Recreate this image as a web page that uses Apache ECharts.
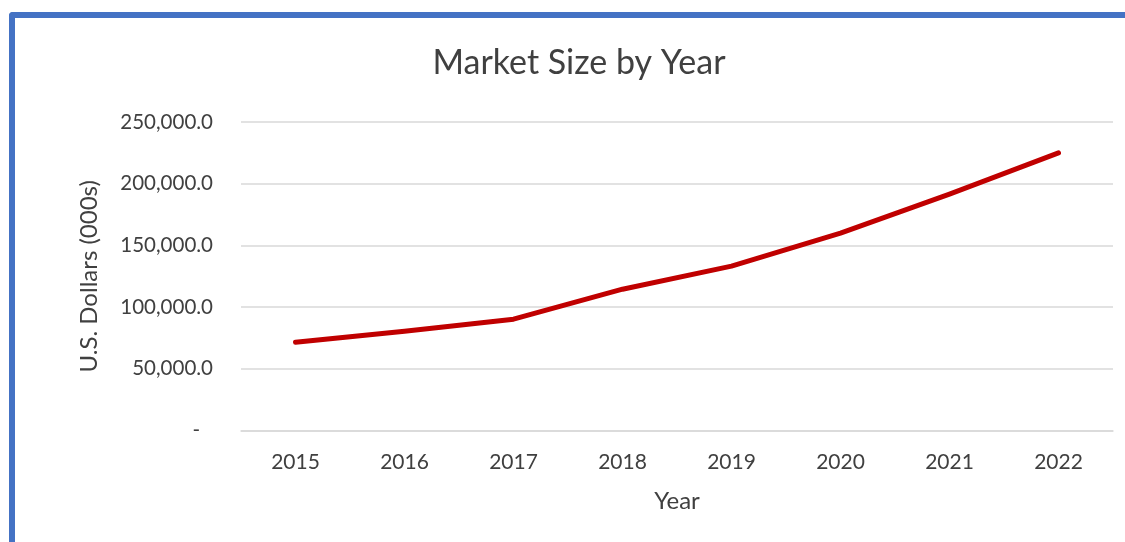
<!DOCTYPE html>
<html>
<head>
<meta charset="utf-8">
<script src="https://cdn.jsdelivr.net/npm/echarts@6/dist/echarts.min.js"></script>
<style>
html,body{margin:0;padding:0;background:#fff;}
#wrap{position:relative;width:1125px;height:542px;overflow:hidden;background:#fff;}
#frame{position:absolute;left:9px;top:12px;width:1130px;height:550px;border-top:6px solid #4472C4;border-left:6px solid #4472C4;border-top-left-radius:4px;box-sizing:border-box;}
#chart{position:absolute;left:0;top:0;width:1125px;height:542px;}
</style>
</head>
<body>
<div id="wrap">
<div id="frame"></div>
<div id="chart"></div>
</div>
<script>
const years = ['2015','2016','2017','2018','2019','2020','2021','2022'];
const marketSize = [71500, 80500, 90200, 114500, 133200, 160000, 191500, 225000];
const yTicks = [0, 50000, 100000, 150000, 200000, 250000];

const FONT = 'Lato, "Open Sans", sans-serif';
const chart = echarts.init(document.getElementById('chart'), null, {renderer:'canvas'});
function fmt(v){
  if (v === 0) return '{d|-}';
  return v.toLocaleString('en-US',{minimumFractionDigits:1,maximumFractionDigits:1});
}
chart.setOption({
  backgroundColor:'transparent',
  animation:false,
  title:{
    text:'Market Size by Year',
    left:574, top:41, textAlign:'center',
    textStyle:{fontFamily:FONT,fontSize:34,fontWeight:'normal',color:'#404040'}
  },
  grid:{left:241,right:12,top:122,bottom:111.5,containLabel:false},
  xAxis:{
    type:'category',
    data:years,
    boundaryGap:true,
    name:'Year',
    nameLocation:'middle',
    nameGap:59,
    nameTextStyle:{fontFamily:FONT,fontSize:24,color:'#404040'},
    axisLine:{show:true,lineStyle:{color:'#d9d9d9',width:1.5}},
    axisTick:{show:false},
    axisLabel:{fontFamily:FONT,fontSize:21,color:'#404040',margin:21}
  },
  yAxis:{
    type:'value',
    min:yTicks[0],
    max:yTicks[yTicks.length-1],
    interval:50000,
    name:'U.S. Dollars (000s)',
    nameLocation:'middle',
    nameGap:140,
    nameRotate:90,
    nameTextStyle:{fontFamily:FONT,fontSize:24,color:'#404040'},
    axisLine:{show:false},
    axisTick:{show:false},
    splitLine:{lineStyle:{color:'#d9d9d9',width:1.5}},
    axisLabel:{
      fontFamily:FONT,fontSize:20.5,color:'#404040',margin:28,
      formatter:fmt,
      rich:{d:{fontFamily:FONT,fontSize:20.5,color:'#404040',padding:[0,13,0,0]}}
    }
  },
  series:[{
    type:'line',
    data:marketSize,
    symbol:'none',
    smooth:false,
    lineStyle:{color:'#C00000',width:5,cap:'round',join:'round'}
  }]
});
</script>
</body>
</html>
